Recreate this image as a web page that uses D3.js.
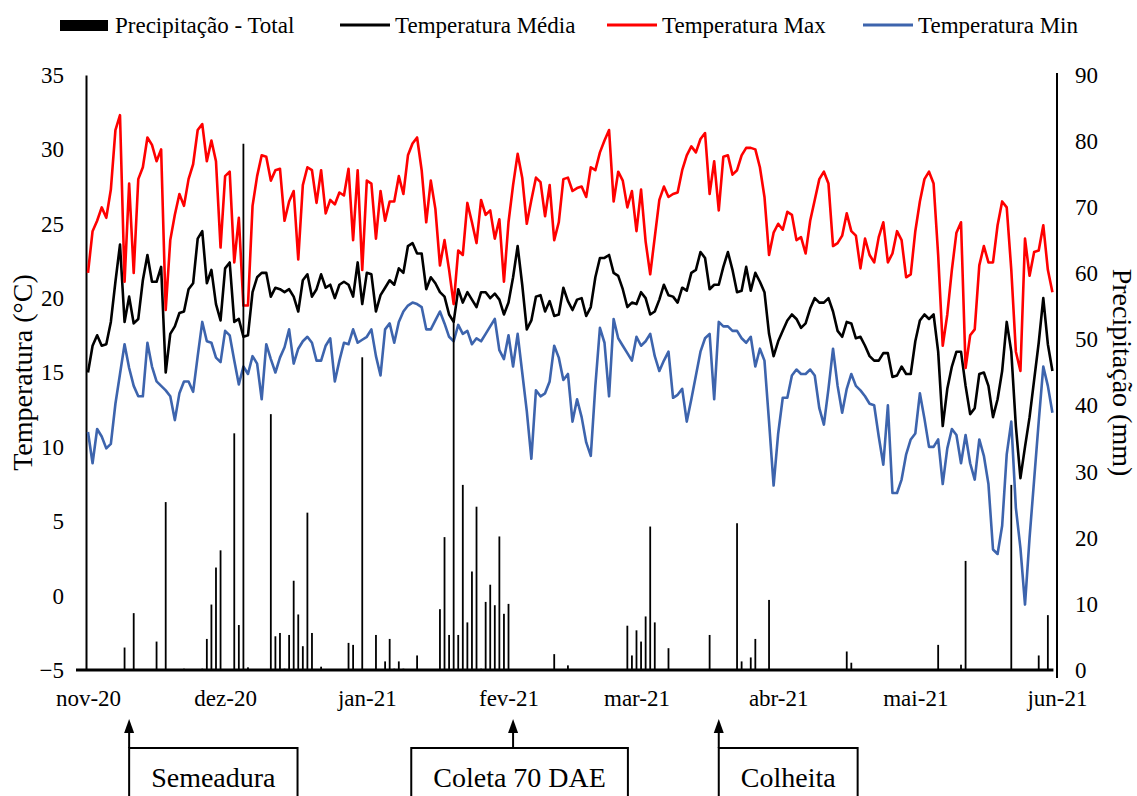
<!DOCTYPE html>
<html>
<head>
<meta charset="utf-8">
<script src="https://cdn.jsdelivr.net/npm/d3@7"></script>
<style>
  body { margin: 0; background: #fff; }
  text { font-family: "Liberation Serif", "Times New Roman", serif; fill: #000; }
</style>
</head>
<body>
<svg id="chart" width="1137" height="796"></svg>
<script>
// Period covered by the daily series (01/11/2020 .. 31/05/2021)
const startDate = new Date(2020, 10, 1);
const endDate = new Date(2021, 5, 1);
const monthLabels = ["nov-20", "dez-20", "jan-21", "fev-21", "mar-21", "abr-21", "mai-21", "jun-21"];
const tempTicks = [-5, 0, 5, 10, 15, 20, 25, 30, 35];
const precTicks = [0, 10, 20, 30, 40, 50, 60, 70, 80, 90];

// Temperatura Max (°C)
const tempMax = [
  21.7, 24.5, 25.2, 26.1, 25.4, 27.3, 31.3, 32.3, 21.1, 27.7,
  21.7, 28.0, 28.8, 30.8, 30.3, 29.2, 30.0, 19.2, 23.9, 25.6,
  27.0, 26.2, 28.0, 29.0, 31.3, 31.7, 29.2, 30.6, 29.2, 23.4,
  28.2, 28.5, 22.4, 25.4, 19.5, 19.5, 26.2, 28.2, 29.6, 29.5,
  27.9, 28.6, 28.7, 25.2, 26.5, 27.2, 22.6, 27.6, 28.8, 28.6,
  26.4, 28.6, 25.7, 26.6, 26.3, 27.1, 26.9, 28.7, 23.9, 28.6,
  21.9, 27.9, 27.7, 24.0, 27.2, 25.2, 26.5, 26.5, 28.2, 27.0,
  29.6, 30.4, 30.8, 28.6, 25.1, 27.9, 26.0, 22.2, 23.9, 21.9,
  19.6, 23.2, 22.9, 26.4, 25.1, 23.7, 26.6, 25.6, 25.9, 24.0,
  25.3, 21.1, 25.1, 27.6, 29.7, 28.1, 25.0, 26.6, 28.1, 27.8,
  25.5, 27.6, 23.9, 25.1, 28.0, 28.1, 27.2, 27.4, 27.5, 26.8,
  28.8, 28.6, 29.8, 30.6, 31.3, 26.5, 28.5, 27.9, 26.1, 27.2,
  24.5, 27.3, 23.8, 21.6, 24.1, 26.6, 27.5, 26.8, 27.0, 27.1,
  28.6, 29.6, 30.2, 29.8, 30.7, 31.1, 27.0, 29.2, 25.9, 29.5,
  29.6, 28.3, 28.6, 29.6, 30.1, 30.1, 30.0, 28.8, 26.8, 22.9,
  24.4, 25.0, 24.6, 25.8, 25.6, 23.9, 24.1, 23.0, 25.2, 26.6,
  28.0, 28.5, 27.7, 23.5, 23.7, 24.2, 25.7, 24.5, 24.2, 22.0,
  24.0, 22.9, 22.4, 24.1, 25.1, 22.4, 23.0, 24.5, 23.9, 21.4,
  21.6, 24.5, 26.5, 28.0, 28.5, 27.7, 22.9, 16.8, 18.9, 21.9,
  24.4, 25.1, 15.3, 17.5, 17.9, 22.2, 23.5, 22.4, 22.4, 24.9,
  26.5, 26.1, 21.9, 16.4, 15.1, 24.0, 21.5, 23.1, 23.2, 24.9,
  21.9, 20.4
];

// Temperatura Média (°C)
const tempMed = [
  15.0, 16.8, 17.5, 16.8, 16.9, 18.4, 21.1, 23.6, 18.4, 20.1,
  18.3, 18.6, 21.2, 22.9, 21.1, 21.1, 22.1, 15.0, 17.6, 18.1,
  19.0, 19.1, 20.6, 21.0, 24.0, 24.5, 21.0, 21.9, 19.6, 18.5,
  22.0, 22.4, 18.4, 18.6, 17.4, 17.5, 20.4, 21.4, 21.7, 21.7,
  20.1, 20.7, 20.6, 20.4, 20.6, 20.1, 19.1, 21.2, 21.6, 20.1,
  20.6, 21.6, 20.7, 20.9, 20.0, 20.9, 21.1, 20.9, 20.1, 22.4,
  19.6, 21.7, 21.6, 19.1, 20.2, 20.7, 21.2, 20.9, 22.0, 21.7,
  23.5, 23.7, 23.0, 23.0, 20.6, 21.4, 21.0, 20.4, 20.1, 18.9,
  18.4, 20.6, 19.7, 20.4, 19.9, 19.4, 20.4, 20.4, 20.0, 20.3,
  19.9, 18.9, 19.7, 21.4, 23.5, 20.9, 17.9, 18.5, 20.1, 20.2,
  19.1, 19.8, 18.8, 18.9, 20.7, 19.8, 19.2, 19.9, 20.0, 18.8,
  19.4, 21.4, 22.7, 22.7, 22.9, 21.7, 21.5, 20.6, 19.4, 19.7,
  19.6, 20.4, 20.0, 18.9, 19.1, 19.9, 20.9, 20.2, 20.1, 19.7,
  20.7, 20.5, 21.7, 21.9, 23.1, 22.7, 20.6, 20.9, 20.9, 22.1,
  23.1, 21.9, 20.4, 20.5, 22.1, 20.5, 21.7, 21.1, 20.4, 17.6,
  16.1, 17.1, 17.8, 18.5, 18.9, 18.6, 18.0, 18.3, 19.3, 20.0,
  19.7, 19.7, 20.0, 19.1, 17.8, 17.4, 18.4, 18.3, 17.3, 17.4,
  16.8, 16.1, 15.8, 15.8, 16.3, 16.3, 14.7, 14.8, 15.4, 14.9,
  14.9, 17.1, 18.5, 18.9, 18.6, 18.9, 16.4, 11.4, 13.9, 15.4,
  16.4, 16.4, 14.1, 12.2, 12.6, 14.9, 15.0, 14.1, 12.0, 13.2,
  15.1, 18.4, 16.4, 11.4, 7.9, 10.0, 12.0, 14.5, 17.0, 20.0,
  16.9, 15.1
];

// Temperatura Min (°C)
const tempMin = [
  11.0, 8.9, 11.2, 10.7, 9.9, 10.2, 12.9, 14.9, 16.9, 15.3,
  14.1, 13.4, 13.4, 17.0, 15.4, 14.4, 14.1, 13.8, 13.4, 11.8,
  13.6, 14.4, 14.4, 13.7, 16.1, 18.4, 17.1, 17.0, 16.0, 15.7,
  17.8, 17.5, 15.8, 14.2, 15.4, 14.9, 16.1, 15.6, 13.2, 16.9,
  15.9, 15.0, 16.0, 16.7, 17.9, 15.6, 16.6, 17.1, 17.4, 17.0,
  15.8, 15.8, 16.8, 17.3, 14.4, 15.8, 17.0, 16.9, 17.9, 17.0,
  17.2, 17.4, 17.9, 16.1, 14.8, 17.9, 18.3, 17.0, 18.4, 19.1,
  19.5, 19.7, 19.6, 19.4, 17.9, 17.9, 18.5, 19.1, 18.3, 17.4,
  17.1, 18.2, 17.6, 17.8, 16.9, 17.3, 17.1, 17.6, 18.1, 18.6,
  16.5, 15.9, 17.5, 15.4, 17.6, 15.0, 12.4, 9.2, 13.8, 13.4,
  13.6, 14.4, 16.8, 16.0, 14.5, 14.9, 11.7, 13.2, 12.0, 10.3,
  9.4, 14.1, 18.0, 17.0, 13.4, 18.6, 17.3, 16.8, 16.3, 15.8,
  17.4, 16.8, 17.1, 17.6, 16.1, 15.1, 15.8, 16.4, 13.3, 13.5,
  13.9, 11.7, 13.2, 14.8, 16.4, 17.3, 17.6, 13.2, 18.4, 18.1,
  18.1, 17.8, 17.8, 17.3, 17.0, 17.4, 15.4, 16.6, 15.8, 11.7,
  7.4, 10.9, 13.3, 13.3, 14.8, 15.2, 14.9, 14.9, 15.2, 14.8,
  12.6, 11.5, 13.9, 16.6, 14.1, 12.3, 13.9, 14.9, 14.1, 13.8,
  13.4, 12.9, 12.8, 10.7, 8.8, 12.8, 6.9, 6.9, 7.8, 9.5,
  10.5, 10.9, 13.6, 11.9, 10.0, 10.0, 10.5, 7.5, 9.9, 11.2,
  10.8, 8.9, 10.8, 8.9, 7.8, 10.5, 9.4, 7.5, 3.1, 2.8,
  4.7, 9.5, 11.7, 5.9, 3.2, -0.6, 3.9, 7.8, 11.7, 15.4,
  14.1, 12.3
];

// Precipitação - Total (mm)
const precip = [
  0, 0, 0, 0, 0, 0, 0, 0, 3.4, 0,
  8.6, 0, 0, 0, 0, 4.3, 0, 25.4, 0, 0,
  0, 0.2, 0, 0, 0, 0.2, 4.7, 9.9, 15.5, 18.1,
  0, 0, 35.8, 6.8, 79.6, 0.4, 0, 0, 0, 0,
  38.7, 5.1, 5.6, 0.2, 5.3, 13.5, 8.4, 3.6, 23.8, 5.6,
  0, 0.5, 0, 0, 0, 0, 0, 4.1, 3.8, 0,
  47.3, 0, 0, 5.3, 0, 1.3, 4.7, 0.2, 1.3, 0.2,
  0, 0, 2.2, 0, 0, 0, 0, 9.2, 20.1, 5.3,
  52.9, 5.3, 28.0, 7.2, 14.9, 24.7, 0.2, 10.3, 12.9, 9.8,
  20.2, 8.5, 10.0, 0, 0, 0, 0, 0, 0, 0,
  0, 0, 2.4, 0, 0, 0.7, 0, 0, 0, 0,
  0, 0, 0, 0, 0, 0, 0, 0, 6.7, 2.2,
  6.0, 4.3, 8.1, 21.7, 7.2, 0, 0, 3.3, 0, 0,
  0, 0, 0, 0, 0, 0, 5.3, 0, 0, 0,
  0, 0, 22.2, 1.3, 0, 1.9, 4.7, 0, 0, 10.6,
  0, 0, 0, 0, 0, 0, 0, 0, 0, 0,
  0, 0, 0, 0, 0, 0, 2.8, 1.1, 0, 0,
  0, 0, 0, 0, 0, 0, 0, 0, 0, 0,
  0, 0, 0, 0, 0, 0, 3.8, 0, 0, 0,
  0, 0.8, 16.5, 0, 0, 0, 0, 0, 0, 0,
  0, 0, 28.0, 0, 0, 0, 0, 0, 2.2, 0,
  8.3, 0
];

// Field operations marked under the time axis
const eventLabels = ["Semeadura", "Coleta 70 DAE", "Colheita"];
const eventDates = ["2020-11-10", "2021-02-02", "2021-03-19"];

const svg = d3.select("#chart");
const margin = { left: 88, right: 1057, top: 75, bottom: 670 };

const days = d3.timeDay.range(startDate, endDate);

const x = d3.scaleTime()
  .domain([startDate, endDate])
  .range([margin.left, margin.right]);

const yT = d3.scaleLinear().domain([-5, 35]).range([margin.bottom, margin.top]);
const yP = d3.scaleLinear().domain([0, 90]).range([margin.bottom, margin.top]);

// Left axis (temperature)
const leftAxis = svg.append("g")
  .attr("transform", `translate(${margin.left - 2},0)`)
  .call(d3.axisLeft(yT).tickValues(tempTicks).tickSize(0).tickPadding(22).tickFormat(d3.format("d")));
leftAxis.select(".domain").attr("stroke", "#000").attr("stroke-width", 2);
leftAxis.selectAll("text").style("font-size", "23px");

// Right axis (precipitation)
const rightAxis = svg.append("g")
  .attr("transform", `translate(${margin.right},0)`)
  .call(d3.axisRight(yP).tickValues(precTicks).tickSize(0).tickPadding(18));
rightAxis.select(".domain").attr("stroke", "#000").attr("stroke-width", 2)
  .attr("d", `M0,${margin.top - 2}V${margin.bottom + 8}`);
rightAxis.selectAll("text").style("font-size", "23px");

// Bottom axis (months)
const monthStarts = d3.timeMonth.range(startDate, d3.timeDay.offset(endDate, 1));
const bottomAxis = svg.append("g")
  .attr("transform", `translate(0,${margin.bottom})`)
  .call(d3.axisBottom(x).tickValues(monthStarts).tickSize(0).tickPadding(20)
    .tickFormat((d, i) => monthLabels[i]));
bottomAxis.select(".domain").remove();
bottomAxis.selectAll("text").style("font-size", "23px");

svg.append("line")
  .attr("x1", margin.left - 12).attr("x2", x(days[days.length - 1]) + 1)
  .attr("y1", margin.bottom).attr("y2", margin.bottom)
  .attr("stroke", "#000").attr("stroke-width", 3);

// Temperature lines
const series = [
  { values: tempMed, color: "#000000" },
  { values: tempMax, color: "#ff0000" },
  { values: tempMin, color: "#3d64ad" }
];

const line = d3.line()
  .x((d, i) => x(days[i]))
  .y(d => yT(d));

series.forEach(s => {
  svg.append("path")
    .datum(s.values)
    .attr("d", line)
    .attr("fill", "none")
    .attr("stroke", s.color)
    .attr("stroke-width", 2.6)
    .attr("stroke-linejoin", "round");
});

// Precipitation bars (secondary axis, drawn on top)
svg.append("g")
  .selectAll("rect")
  .data(precip.map((v, i) => ({ date: days[i], value: v })).filter(d => d.value > 0))
  .enter().append("rect")
  .attr("x", d => x(d.date) - 0.9)
  .attr("width", 1.8)
  .attr("y", d => yP(d.value))
  .attr("height", d => yP(0) - yP(d.value))
  .attr("fill", "#000");

// Axis titles
svg.append("text")
  .attr("transform", `translate(22,${(margin.top + margin.bottom) / 2}) rotate(-90)`)
  .attr("text-anchor", "middle")
  .attr("dominant-baseline", "central")
  .style("font-size", "28px")
  .text("Temperatura (°C)");

svg.append("text")
  .attr("transform", `translate(1122,${(margin.top + margin.bottom) / 2}) rotate(90)`)
  .attr("text-anchor", "middle")
  .attr("dominant-baseline", "central")
  .style("font-size", "28px")
  .text("Precipitação (mm)");

// Legend
const legendItems = [
  { label: "Precipitação - Total", color: "#000000", type: "rect", x: 60 },
  { label: "Temperatura Média", color: "#000000", type: "line", x: 340 },
  { label: "Temperatura Max", color: "#ff0000", type: "line", x: 607 },
  { label: "Temperatura Min", color: "#3d64ad", type: "line", x: 863 }
];
const legend = svg.append("g").attr("transform", "translate(0,25)");
legendItems.forEach(item => {
  if (item.type === "rect") {
    legend.append("rect").attr("x", item.x).attr("y", -5).attr("width", 48).attr("height", 11).attr("fill", item.color);
  } else {
    legend.append("line").attr("x1", item.x).attr("x2", item.x + 50).attr("y1", 0).attr("y2", 0)
      .attr("stroke", item.color).attr("stroke-width", 3);
  }
  legend.append("text")
    .attr("x", item.x + 55)
    .attr("y", 0)
    .attr("dominant-baseline", "central")
    .style("font-size", "23px")
    .text(item.label);
});

// Event annotations: arrow pointing to the date + framed label
const parseDate = d3.timeParse("%Y-%m-%d");
const boxTop = 748;
eventLabels.forEach((label, i) => {
  const ex = x(parseDate(eventDates[i]));
  const g = svg.append("g");
  const t = g.append("text")
    .attr("y", boxTop + 29)
    .attr("dominant-baseline", "central")
    .attr("text-anchor", "middle")
    .style("font-size", "28px")
    .text(label);
  const w = t.node().getComputedTextLength() + 44;
  const left = i === 1 ? ex - w * 0.47 : ex;
  t.attr("x", left + w / 2);
  g.append("rect")
    .attr("x", left).attr("y", boxTop)
    .attr("width", w).attr("height", 70)
    .attr("fill", "none").attr("stroke", "#000").attr("stroke-width", 2);
  g.append("line")
    .attr("x1", ex).attr("x2", ex).attr("y1", boxTop).attr("y2", 730)
    .attr("stroke", "#000").attr("stroke-width", 2);
  g.append("path")
    .attr("d", `M${ex},719L${ex - 5},733L${ex + 5},733Z`)
    .attr("fill", "#000");
});
</script>
</body>
</html>
